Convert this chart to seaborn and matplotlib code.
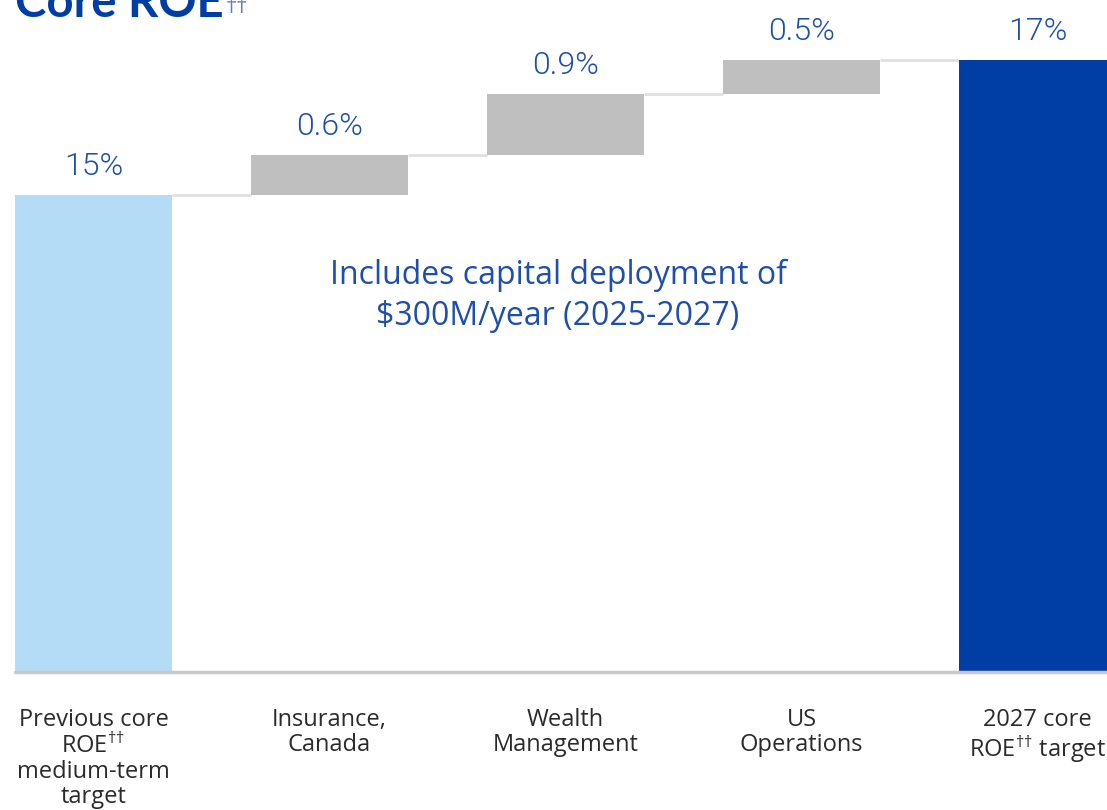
# Core ROE waterfall — bridge from previous medium-term target to 2027 target
import numpy as np
import pandas as pd
import matplotlib
matplotlib.use("Agg")
import matplotlib.pyplot as plt
import seaborn as sns

# --- Data ---
KATEGORI = [
    "Previous core\nROE$^{††}$\nmedium-term\ntarget",
    "Insurance,\nCanada",
    "Wealth\nManagement",
    "US\nOperations",
    "2027 core\nROE$^{††}$ target",
]
NILAI = [15.0, 0.6, 0.9, 0.5, 17.0]          # total / step / step / step / total
JENIS = ["total", "step", "step", "step", "total"]
LABEL = ["15%", "0.6%", "0.9%", "0.5%", "17%"]
WARNA_BAR = ["#B5DCF7", "#BFBFBF", "#BFBFBF", "#BFBFBF", "#003DA5"]

BIRU_TEKS = "#1F4FAD"
Y_MIN, Y_MAX = 7.93, 17.89

# bottom & top tiap bar
bottom, top, level = [], [], 0.0
for v, j in zip(NILAI, JENIS):
    if j == "total":
        bottom.append(0.0)
        top.append(v)
        level = v
    else:
        bottom.append(level)
        top.append(level + v)
        level += v

df = pd.DataFrame({"kategori": KATEGORI, "tinggi": NILAI, "bottom": bottom, "top": top})

sns.set_style("white")
plt.rcParams["mathtext.fontset"] = "custom"
plt.rcParams["mathtext.rm"] = "Open Sans"
plt.rcParams["mathtext.it"] = "Open Sans:italic"
plt.rcParams["mathtext.bf"] = "Open Sans:bold"

fig = plt.figure(figsize=(11.07, 8.10), dpi=100)
ax = fig.add_axes([0, 1 - 672 / 810, 1, 672 / 810])

sns.barplot(data=df, x="kategori", y="tinggi", color="#BFBFBF",
            bottom=df["bottom"].values, width=0.665, ax=ax,
            saturation=1, linewidth=0, zorder=2)
for patch, c in zip(ax.patches, WARNA_BAR):
    patch.set_facecolor(c)

ax.set_xlim(-0.396, 4.294)
ax.set_ylim(Y_MIN, Y_MAX)

# garis penghubung antar bar
hw = 0.665 / 2
for i in range(len(KATEGORI) - 1):
    ax.plot([i + hw, i + 1 - hw], [top[i], top[i]], color="#E0E0E0", lw=2,
            solid_capstyle="butt", zorder=1)

# garis dasar
ax.plot([-hw, 4.4], [Y_MIN, Y_MIN], color="#C8C8C8", lw=2.5, clip_on=False, zorder=3)

# label nilai
for i, t in enumerate(top):
    ax.annotate(LABEL[i], (i, t), xytext=(0, 10), textcoords="offset points",
                ha="center", va="bottom", fontsize=23, color=BIRU_TEKS,
                family="Roboto", fontweight=300, zorder=5)

ax.text(1.968, 14.05, "Includes capital deployment of\n$300M/year (2025-2027)",
        ha="center", va="top", fontsize=23, color=BIRU_TEKS, family="Open Sans",
        linespacing=1.3, zorder=5)

# tick & spine
sns.despine(ax=ax, left=True, bottom=True)
ax.set_xlabel("")
ax.set_ylabel("")
ax.set_yticks([])
ax.tick_params(axis="x", length=0, pad=26)
for lbl in ax.get_xticklabels():
    lbl.set_fontsize(17)
    lbl.set_family("Open Sans")
    lbl.set_color("#2B2B2B")
    lbl.set_linespacing(1.05)
    lbl.set_va("top")

# judul (terpotong di atas seperti slide asli)
fig.text(15 / 1107, 1 - 17 / 810, "Core ROE", ha="left",
         va="baseline", fontsize=34, fontweight="bold", family="Lato", color="#003DA5")
fig.text(226 / 1107, 1 - 13 / 810, "††", ha="left", va="baseline",
         fontsize=16, family="Open Sans", color="#5A7FC4")

fig.savefig("out.png", dpi=100)
plt.close(fig)
